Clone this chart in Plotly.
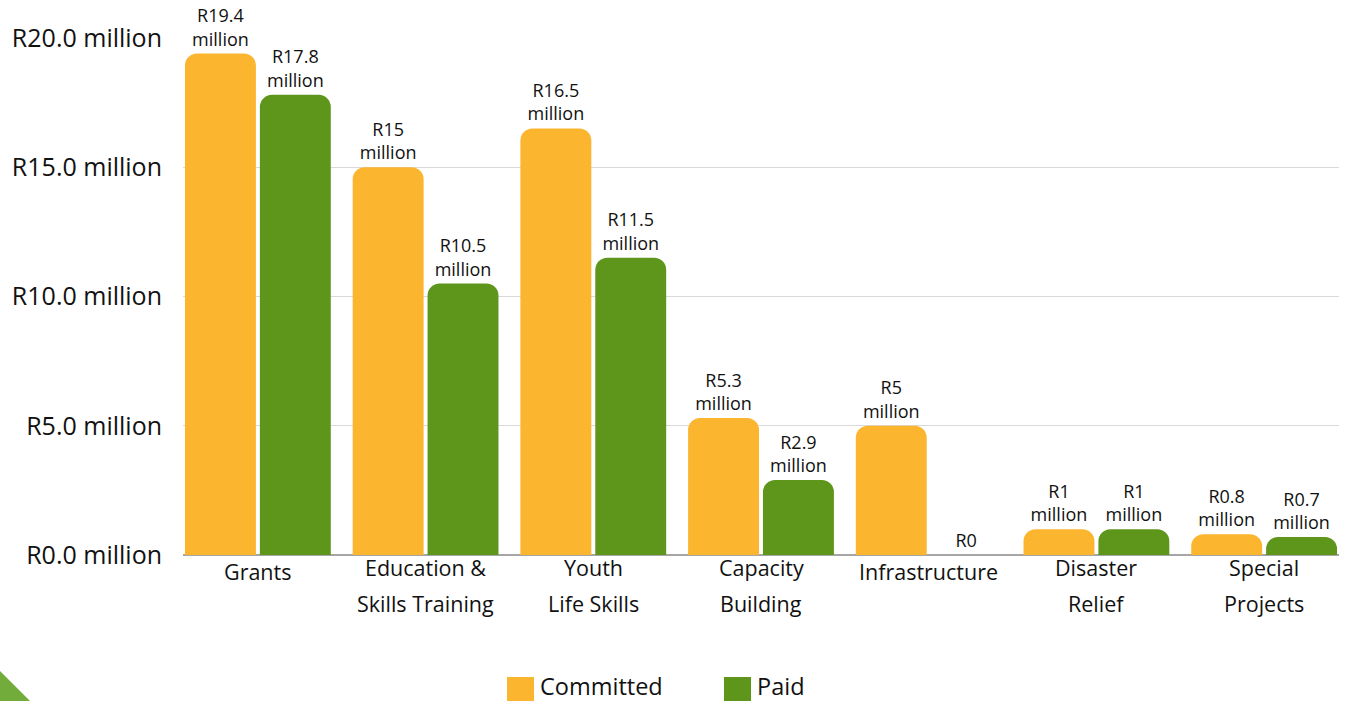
import plotly.graph_objects as go

categories = ["Grants", "Education &<br>Skills Training", "Youth<br>Life Skills",
              "Capacity<br>Building", "Infrastructure", "Disaster<br>Relief",
              "Special<br>Projects"]
committed = [19.4, 15, 16.5, 5.3, 5, 1, 0.8]
paid = [17.8, 10.5, 11.5, 2.9, 0, 1, 0.7]
y_ticks = [0, 5, 10, 15, 20]

ORANGE = "#FBB52F"
GREEN = "#5E961B"
FONT = "Open Sans"


def label(v):
    if v == 0:
        return "R0"
    return "R%g<br>million" % v


fig = go.Figure()
for name, vals, col in [("Committed", committed, ORANGE), ("Paid", paid, GREEN)]:
    fig.add_trace(go.Bar(
        x=list(range(len(categories))), y=vals, name=name,
        marker=dict(color=col, line=dict(width=0)),
        text=[label(v) for v in vals], textposition="outside",
        textfont=dict(family=FONT, size=18, color="#111111"),
        cliponaxis=False, showlegend=False,
    ))

# category labels (two lines, wide spacing like the original)
for i, c in enumerate(categories):
    lines = c.split("<br>")
    if len(lines) == 1:
        fig.add_annotation(x=i, xref="x", y=-16/517, yref="paper", text=lines[0],
                           showarrow=False, yanchor="middle",
                           font=dict(family=FONT, size=21.5, color="#111111"))
    else:
        for k, ln in enumerate(lines):
            fig.add_annotation(x=i, xref="x", y=(-12 - 36*k)/517, yref="paper", text=ln,
                               showarrow=False, yanchor="middle",
                               font=dict(family=FONT, size=21.5, color="#111111"))

# legend
for name, col, x0 in [("Committed", ORANGE, 507), ("Paid", GREEN, 724)]:
    fig.add_shape(type="rect", xref="paper", yref="paper",
                  x0=(x0-183)/1156, x1=(x0+27-183)/1156,
                  y0=(555-704)/517, y1=(555-677)/517,
                  fillcolor=col, line=dict(width=0))
    fig.add_annotation(xref="paper", yref="paper", x=(x0+31-183)/1156, y=(555-686)/517,
                       text=name, showarrow=False, xanchor="left", yanchor="middle",
                       font=dict(family=FONT, size=23.5, color="#111111"))

# corner decoration
fig.add_shape(type="path", xref="paper", yref="paper",
              path="M %f %f L %f %f L %f %f Z" % (
                  -183/1156, (555-671)/517, (30-183)/1156, (555-701)/517,
                  -183/1156, (555-701)/517),
              fillcolor="#72AC3A", line=dict(width=0))

fig.update_layout(
    width=1346, height=701,
    margin=dict(l=183, r=7, t=38, b=146),
    paper_bgcolor="white", plot_bgcolor="white",
    barmode="group", bargap=0.107, bargroupgap=0.053,
    barcornerradius=12,
    font=dict(family=FONT, color="#111111"),
    xaxis=dict(range=[-0.4465, 6.4465], showticklabels=False, showgrid=False,
               zeroline=False, showline=False, fixedrange=True),
    yaxis=dict(range=[0, 20], tickvals=y_ticks,
               ticktext=["R%.1f million" % v for v in y_ticks],
               tickfont=dict(family=FONT, size=25, color="#111111"),
               gridcolor="#D9D9D9", gridwidth=1,
               zeroline=True, zerolinecolor="#A6A6A6", zerolinewidth=2,
               ticklabelstandoff=20),
)

fig.write_html("out.html", config={"displayModeBar": False},
               post_script="document.body.style.margin='0';document.body.style.overflow='hidden';")
